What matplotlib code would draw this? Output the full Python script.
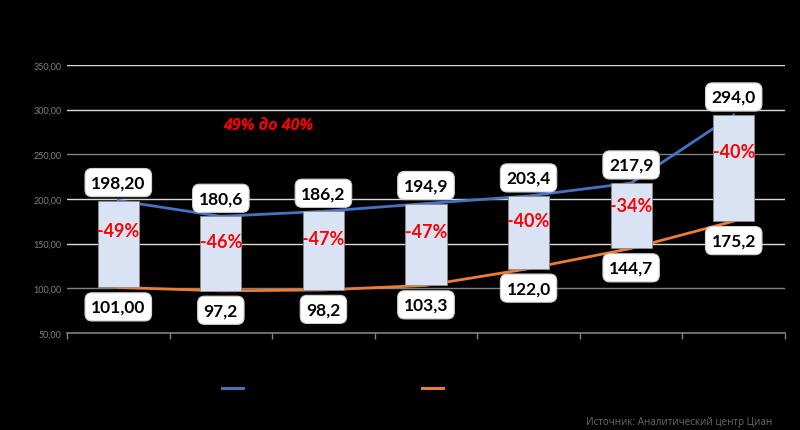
import matplotlib.pyplot as plt
from matplotlib.ticker import FuncFormatter, FixedLocator

# --- data ---
periods = ["2017", "2018", "2019", "2020", "2021", "2022", "2023"]
high_vals = [198.2, 180.6, 186.2, 194.9, 203.4, 217.9, 294.0]
low_vals = [101.0, 97.2, 98.2, 103.3, 122.0, 144.7, 175.2]
high_lbls = ["198,20", "180,6", "186,2", "194,9", "203,4", "217,9", "294,0"]
low_lbls = ["101,00", "97,2", "98,2", "103,3", "122,0", "144,7", "175,2"]
pct_lbls = ["-49%", "-46%", "-47%", "-47%", "-40%", "-34%", "-40%"]
series_names = ["Новостройки", "Вторичное жильё"]

blue = "#4472c4"
orange = "#ed7d31"
bar_col = "#dae3f3"

plt.rcParams['font.family'] = ['Lato', 'DejaVu Sans']

fig = plt.figure(figsize=(8, 4.31), dpi=100, facecolor="black")
ax = fig.add_axes([67/800, 1-334/431, (785-67)/800, (334-66)/431])
ax.set_facecolor("black")

x = list(range(len(periods)))
ax.plot(x, high_vals, color=blue, lw=2, zorder=2)
ax.plot(x, low_vals, color=orange, lw=2, zorder=2)
heights = [h - l for h, l in zip(high_vals, low_vals)]
ax.bar(x, heights, bottom=low_vals, width=0.4, color=bar_col,
       edgecolor="#8c8c8c", linewidth=0.6, zorder=3)

box = dict(boxstyle="round,pad=0.35,rounding_size=0.4", fc="white", ec="#d0d0d0", lw=0.8)
for i in x:
    ax.annotate(high_lbls[i], (i, high_vals[i]), xytext=(0, 13), textcoords="offset points",
                ha="center", va="center", fontsize=12.5, fontweight="bold", color="black",
                bbox=box, zorder=5)
    ax.annotate(low_lbls[i], (i, low_vals[i]), xytext=(0, -14), textcoords="offset points",
                ha="center", va="center", fontsize=12.5, fontweight="bold", color="black",
                bbox=box, zorder=5)
    ax.text(i, low_vals[i] + 0.66 * heights[i], pct_lbls[i], ha="center", va="center",
            fontsize=13, fontweight="bold", color="#ff0000", zorder=6)

ax.set_xlim(-0.5, len(periods) - 0.5)
ax.set_ylim(50, 350)
ax.yaxis.set_major_locator(FixedLocator([50, 100, 150, 200, 250, 300, 350]))
ax.yaxis.set_major_formatter(FuncFormatter(lambda v, p: f"{v:.2f}".replace(".", ",")))
ax.tick_params(axis="y", length=0, labelsize=6.5, labelcolor="#808080", pad=4)
ax.set_xticks([i - 0.5 for i in range(len(periods) + 1)])
ax.set_xticklabels([])
ax.tick_params(axis="x", direction="out", length=4, color="#808080", width=1)

ax.yaxis.grid(True, lw=1, zorder=0)
ax.set_axisbelow(True)
grid_cols = ["#808080", "#808080", "#d9d9d9", "#d9d9d9", "#808080", "#d9d9d9", "#d9d9d9"]
for gl, c in zip(ax.get_ygridlines(), grid_cols):
    gl.set_color(c)
for s in ["top", "right", "left"]:
    ax.spines[s].set_visible(False)
ax.spines["bottom"].set_color("#808080")
ax.spines["bottom"].set_linewidth(1.2)

fig.text(268/800, 1-126/431, "49% до 40%", color="#ff0000", fontsize=11.5,
         fontweight="bold", fontstyle="italic", ha="center", va="center",
         family=["Open Sans", "DejaVu Sans"])

lines = ax.get_lines()
for ln, name, xpos in zip(lines[:2], series_names, [222, 422]):
    lg = fig.legend([ln], [name], loc="center left", bbox_to_anchor=(xpos/800, 1-389/431),
                    frameon=False, borderpad=0, borderaxespad=0, handlelength=1.7,
                    fontsize=9, labelcolor="black")
    fig.add_artist(lg)

fig.text(772/800, 1-422/431, "Источник: Аналитический центр Циан", color="#6a6a6a",
         fontsize=7.1, ha="right", va="center", family=["Open Sans", "DejaVu Sans"])

fig.savefig("out.png", dpi=100, facecolor="black")
